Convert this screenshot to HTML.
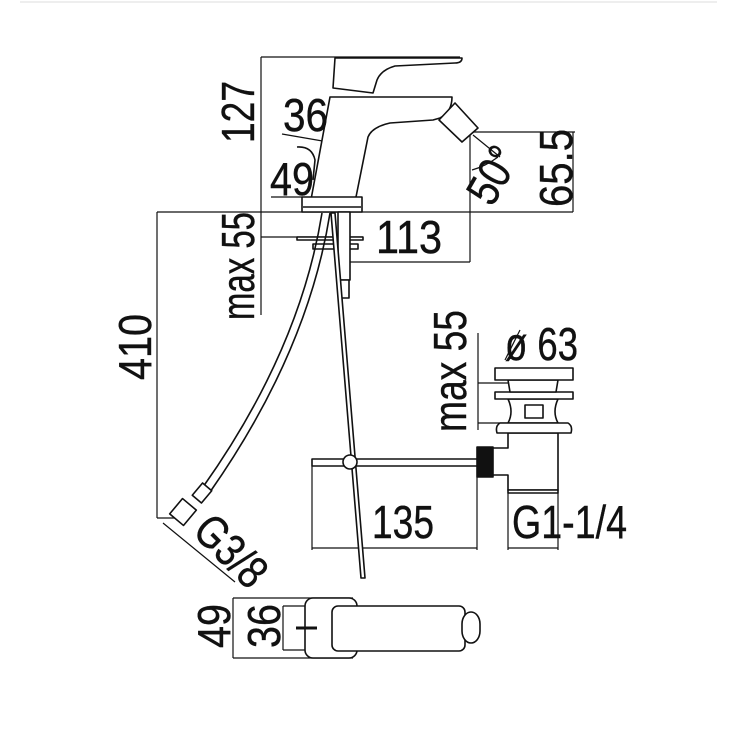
<!DOCTYPE html>
<html><head><meta charset="utf-8"><style>
html,body{margin:0;padding:0;background:#fff}
svg{display:block}
text{font-family:"Liberation Sans Narrow","Liberation Sans",sans-serif;font-size:46px;fill:#111;stroke:#111;stroke-width:0.4}
</style></head><body>
<svg width="737" height="737" viewBox="0 0 737 737" xmlns="http://www.w3.org/2000/svg">
<line x1="20" y1="2" x2="717" y2="2" stroke="#ddd" stroke-width="1"/>
<g fill="none" stroke="#111" stroke-width="1.2">
<line x1="261" y1="57" x2="261" y2="315"/>
<line x1="261" y1="57" x2="460" y2="57"/>
<line x1="157" y1="212" x2="573" y2="212"/>
<line x1="157" y1="212" x2="157" y2="518"/>
<line x1="157" y1="518" x2="178" y2="518"/>
<line x1="163" y1="523" x2="235" y2="582"/>
<line x1="462" y1="132" x2="575" y2="132"/>
<line x1="573" y1="132" x2="573" y2="212"/>
<line x1="470" y1="135" x2="470" y2="262"/>
<line x1="350" y1="262" x2="470" y2="262"/>
<line x1="261" y1="237" x2="363" y2="237"/>
<line x1="282" y1="134" x2="363" y2="148"/>
<line x1="271" y1="197" x2="302" y2="197"/>
<line x1="473" y1="135" x2="500" y2="157"/>
<path d="M472 170 Q486 166 498 157"/>
<line x1="478" y1="333" x2="478" y2="430"/>
<line x1="478" y1="383" x2="508" y2="383"/>
<line x1="478" y1="423" x2="508" y2="423"/>
<line x1="505" y1="360" x2="520" y2="330"/>
<line x1="312" y1="466" x2="312" y2="550"/>
<line x1="477" y1="477" x2="477" y2="550"/>
<line x1="312" y1="548" x2="477" y2="548"/>
<line x1="508" y1="493" x2="508" y2="550"/>
<line x1="558" y1="493" x2="558" y2="550"/>
<line x1="508" y1="548" x2="558" y2="548"/>
<line x1="233" y1="598" x2="233" y2="658"/>
<line x1="233" y1="598" x2="353" y2="598"/>
<line x1="233" y1="658" x2="353" y2="658"/>
<line x1="283" y1="606" x2="283" y2="650"/>
<line x1="283" y1="606" x2="335" y2="606"/>
<line x1="283" y1="650" x2="335" y2="650"/>
</g>
<g fill="#fff" stroke="#111" stroke-width="1.6" stroke-linejoin="round">
<path d="M335 58 L462 58 Q462 63 455 63 L395 66 Q381 70 377 80 L373 93 L333 88 Z"/>
<path d="M330 97 L452 97 Q452 112 440 118 L433 120 L390 123 Q372 127 368 137 L356 197 L310 205 Z"/>
<path d="M439 120 L455 103 L478 128 L462 142 Z"/>
<path d="M297 147 Q312 146 315 160 L313 180" fill="none"/>
<rect x="302" y="197" width="60" height="15"/>
<line x1="303" y1="207" x2="361" y2="207"/>
<rect x="297" y="237" width="66" height="3"/>
<rect x="313" y="244" width="45" height="5"/>
<rect x="338" y="212" width="12" height="68"/>
<rect x="340" y="280" width="9" height="18"/>
<path d="M322 213 Q300 350 203 487" fill="none"/>
<path d="M330 213 Q308 352 210 492" fill="none"/>
<rect x="196" y="485" width="12" height="16" transform="rotate(40 202 493)"/>
<rect x="174" y="502" width="18" height="20" transform="rotate(40 183 512)"/>
<path d="M331 213 L361 578 L365 578 L335 213 Z"/>
<rect x="312" y="459" width="166" height="7"/>
<circle cx="350" cy="462" r="7"/>
<rect x="477" y="447" width="16" height="30" fill="#111"/>
<path d="M493 448 L508 448 L508 433 L558 433 L558 490 L508 490 L508 475 L493 475 Z"/>
<rect x="508" y="490" width="50" height="3"/>
<path d="M508 399 L558 399 Q552 412 558 423 L508 423 Q514 412 508 399 Z"/>
<path d="M497 433 Q495 426 500 423 L568 423 Q573 426 571 433 Z"/>
<rect x="525" y="405" width="18" height="13"/>
<rect x="495" y="392" width="78" height="7"/>
<path d="M508 380 L558 380 L556 392 L510 392 Z"/>
<rect x="495" y="368" width="78" height="12"/>
<rect x="305" y="598" width="52" height="60" rx="8"/>
<rect x="332" y="606" width="133" height="45" rx="6"/>
<rect x="462" y="612" width="18" height="31" rx="12"/>
<line x1="296" y1="628" x2="317" y2="628" stroke-width="3"/>
</g>
<text transform="translate(254,143) rotate(-90)" textLength="62" lengthAdjust="spacingAndGlyphs">127</text>
<text x="283" y="131" textLength="45" lengthAdjust="spacingAndGlyphs">36</text>
<text x="270" y="195" textLength="44" lengthAdjust="spacingAndGlyphs">49</text>
<text transform="translate(254,320) rotate(-90)" textLength="108" lengthAdjust="spacingAndGlyphs">max 55</text>
<text x="376" y="253" textLength="66" lengthAdjust="spacingAndGlyphs">113</text>
<text transform="translate(572,207) rotate(-90)" textLength="78" lengthAdjust="spacingAndGlyphs">65.5</text>
<text transform="translate(492,208) rotate(-60)" textLength="58" lengthAdjust="spacingAndGlyphs">50°</text>
<text transform="translate(151,380) rotate(-90)" textLength="66" lengthAdjust="spacingAndGlyphs">410</text>
<text transform="translate(466,432) rotate(-90)" textLength="122" lengthAdjust="spacingAndGlyphs">max 55</text>
<text x="505" y="360" textLength="73" lengthAdjust="spacingAndGlyphs">ø 63</text>
<text x="372" y="538" textLength="62" lengthAdjust="spacingAndGlyphs">135</text>
<text x="512" y="538" textLength="115" lengthAdjust="spacingAndGlyphs">G1-1/4</text>
<text transform="translate(191,533) rotate(45)" textLength="82" lengthAdjust="spacingAndGlyphs">G3/8</text>
<text transform="translate(230,648) rotate(-90)" textLength="44" lengthAdjust="spacingAndGlyphs">49</text>
<text transform="translate(280,648) rotate(-90)" textLength="44" lengthAdjust="spacingAndGlyphs">36</text>
</svg>
</body></html>
